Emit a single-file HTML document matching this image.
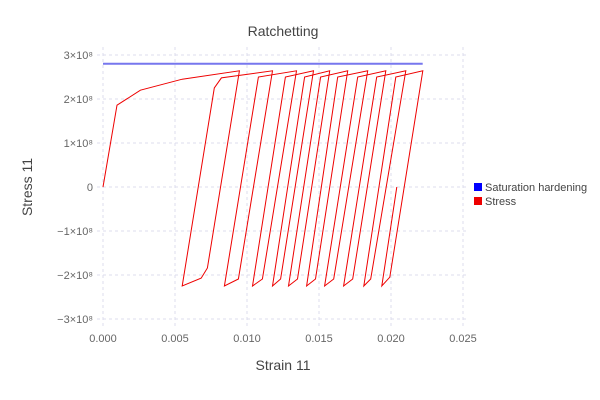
<!DOCTYPE html>
<html><head><meta charset="utf-8">
<style>
body{margin:0;background:#fff;}
svg{display:block;font-family:"Liberation Sans",sans-serif;}
</style></head>
<body>
<svg id="chart" width="600" height="400" viewBox="0 0 600 400">
<rect width="600" height="400" fill="#fff"/>
<text x="283" y="36" text-anchor="middle" font-size="14" fill="#444">Ratchetting</text>
<g id="grid"></g>
<g id="ticks"></g>
<g id="series"></g>
<text x="283" y="370" text-anchor="middle" font-size="14" fill="#444">Strain 11</text>
<text transform="translate(32,187) rotate(-90)" text-anchor="middle" font-size="14" fill="#444">Stress 11</text>
<g>
<rect x="474" y="183" width="8" height="8" fill="#0000ff"/>
<text x="485" y="191" font-size="11" fill="#444">Saturation hardening</text>
<rect x="474" y="197" width="8" height="8" fill="#ee0000"/>
<text x="485" y="205" font-size="11" fill="#444">Stress</text>
</g>
</svg>
<script>
const xTicks = [0, 0.005, 0.010, 0.015, 0.020, 0.025];
const xTickLabels = ["0.000","0.005","0.010","0.015","0.020","0.025"];
const yTicks = [3, 2, 1, 0, -1, -2, -3];
const yTickLabels = ["3×10⁸","2×10⁸","1×10⁸","0","−1×10⁸","−2×10⁸","−3×10⁸"];
const satStrain = [0, 0.0222];
const satStress = [2.8, 2.8];
const stressStrain = [0,0.00097,0.0026,0.0055,0.00947,
 0.00725,0.00682,0.0055,0.00773,0.00822,0.01177,
 0.0094,0.00843,0.01079,0.01344,
 0.01107,0.01038,0.01267,0.01462,
 0.01233,0.01177,0.014,0.01574,
 0.01351,0.01288,0.01511,0.01699,
 0.01476,0.01414,0.0163,0.01838,
 0.01602,0.01539,0.01769,0.01964,
 0.01734,0.01671,0.01901,0.02103,
 0.01859,0.01811,0.02033,0.02221,
 0.01992,0.01936,0.0204];
const stressValues = [0,1.86,2.2,2.45,2.64,
 -1.84,-2.07,-2.25,2.25,2.48,2.64,
 -2.09,-2.25,2.5,2.64,
 -2.09,-2.25,2.5,2.64,
 -2.09,-2.25,2.5,2.64,
 -2.09,-2.25,2.5,2.64,
 -2.09,-2.25,2.5,2.64,
 -2.09,-2.25,2.5,2.64,
 -2.09,-2.25,2.5,2.64,
 -2.09,-2.25,2.5,2.64,
 -2.05,-2.25,0];

const NS="http://www.w3.org/2000/svg";
const xs = v => 103 + v*14400;
const ys = v => 187 - v*44;
function mk(tag, parent){const e=document.createElementNS(NS,tag);document.getElementById(parent).appendChild(e);return e;}

xTicks.forEach((t,i)=>{
  const l=mk('line','grid');
  
  
  l.setAttribute('x1',xs(t));l.setAttribute('x2',xs(t));l.setAttribute('y1',47);l.setAttribute('y2',326);
  l.setAttribute('stroke','#dcdcec');l.setAttribute('stroke-dasharray','3,3');
  const tx=mk('text','ticks');
  
  
  tx.setAttribute('x',xs(t));tx.setAttribute('y',342);tx.setAttribute('text-anchor','middle');
  tx.setAttribute('font-size','11');tx.setAttribute('fill','#666');tx.textContent=xTickLabels[i];
});
yTicks.forEach((t,i)=>{
  const l=mk('line','grid');
  
  
  l.setAttribute('x1',97);l.setAttribute('x2',467);l.setAttribute('y1',ys(t));l.setAttribute('y2',ys(t));
  l.setAttribute('stroke','#dcdcec');l.setAttribute('stroke-dasharray','3,3');
  const tx=mk('text','ticks');
  
  
  tx.setAttribute('x',93);tx.setAttribute('y',ys(t)+4);tx.setAttribute('text-anchor','end');
  tx.setAttribute('font-size','11');tx.setAttribute('fill','#666');tx.textContent=yTickLabels[i];
});
function line(xa,ya,color,name,w){
  const p=mk('polyline','series');
  
  
  p.setAttribute('points',xa.map((x,i)=>xs(x).toFixed(1)+','+ys(ya[i]).toFixed(1)).join(' '));
  p.setAttribute('fill','none');p.setAttribute('stroke',color);p.setAttribute('stroke-width',w);
  p.setAttribute('stroke-linejoin','miter');
}
line(satStrain,satStress,'#7777ee','saturation-hardening-line',2);
line(stressStrain,stressValues,'#ee0000','stress-line',1);
</script>
</body></html>
